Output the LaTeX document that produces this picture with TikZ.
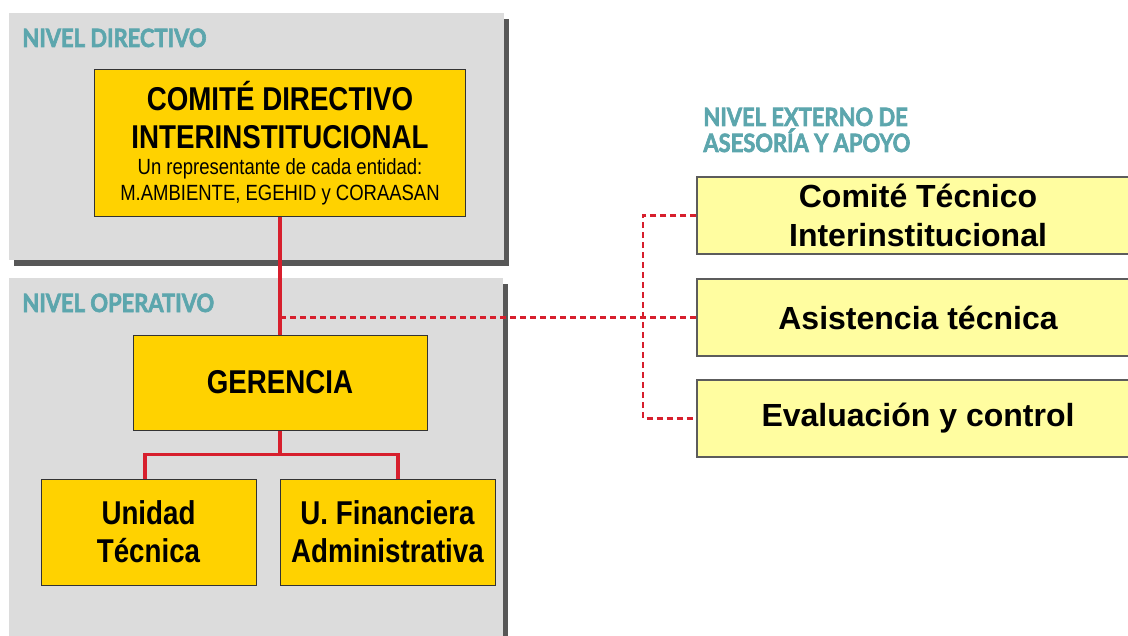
\documentclass[tikz,border=0pt]{standalone}
\usepackage{fontspec}
\setmainfont{Liberation Sans}
\newfontfamily\condfont[FakeStretch=0.84]{Liberation Sans}
\newfontfamily\levelfont[FakeStretch=0.87, FakeBold=2.5]{Lato}
\usetikzlibrary{positioning}

\definecolor{panelgray}{HTML}{DCDCDC}
\definecolor{shadowgray}{HTML}{575757}
\definecolor{gold}{HTML}{FFD200}
\definecolor{paleyellow}{HTML}{FFFDA0}
\definecolor{orgred}{HTML}{D71F2D}
\definecolor{levelteal}{HTML}{5CA6AD}
\definecolor{boxline}{HTML}{333333}

\begin{document}
\begin{tikzpicture}
    [ x=0.5pt, y=-0.5pt,
    panel/.style={fill=panelgray},
    shade/.style={fill=shadowgray},
    level/.style={anchor=base west, inner sep=0pt, text=levelteal,
      font=\levelfont\bfseries\fontsize{12.6}{13}\selectfont, align=left},
    orgbox/.style={draw=boxline, line width=0.5pt, fill=gold, inner sep=0pt,
      align=center, font=\condfont\bfseries\fontsize{16.5}{19}\selectfont},
    extbox/.style={draw=boxline!80, line width=0.7pt, fill=paleyellow, inner sep=0pt,
      align=center, font=\bfseries\fontsize{16}{19.5}\selectfont,
      minimum width=221pt, minimum height=38.5pt},
    link/.style={draw=orgred, line width=1.6pt},
    extlink/.style={draw=orgred, line width=1.1pt, dash pattern=on 3pt off 2pt}
    ]

    \useasboundingbox (0,0) rectangle (1128,636);
    \clip (0,0) rectangle (1128,636);

    % niveles
    \fill[shade] (14,19) rectangle (509,266);
    \fill[panel] (9,13) rectangle (504,260);
    \fill[shade] (14,284) rectangle (508,640);
    \fill[panel] (9,278) rectangle (503,640);

    \node[level] (ndir) at (22,47) {NIVEL DIRECTIVO};
    \node[level] (nope) at (22,312) {NIVEL OPERATIVO};
    \node[level] (next) at (703,152) {NIVEL EXTERNO DE\\ASESORÍA Y APOYO};

    % cajas
    \node[orgbox, minimum width=185.5pt, minimum height=73.5pt] (cdi) at (280,143.5)
      {\raisebox{-1.5pt}{\parbox{180pt}{\centering COMITÉ DIRECTIVO\\INTERINSTITUCIONAL\par
       \mdseries\fontsize{11}{13}\selectfont Un representante de cada entidad:\\
       M.AMBIENTE, EGEHID y CORAASAN\par}}};
    \node[orgbox, minimum width=147pt, minimum height=47.5pt] (ger) at (280,382.5) {GERENCIA};
    \node[orgbox, minimum width=107.5pt, minimum height=53pt] (ut) at (148.5,532) {Unidad\\Técnica};
    \node[orgbox, minimum width=107.5pt, minimum height=53pt] (ufa) at (387.5,532) {U. Financiera\\Administrativa};

    \node[extbox] (ctl) at (918,215.5) {Comité Técnico\\Interinstitucional};
    \node[extbox] (ast) at (918,317.5) {Asistencia técnica};
    \node[extbox] (evc) at (918,418.5) {Evaluación y control};

    % conectores
    \coordinate (tap) at (280,317.5);
    \coordinate (bus) at (643,317.5);

    \draw[extlink] (tap) -- (ast.west);
    \draw[extlink] (ctl.west) -| (bus) |- (evc.west);

    \draw[link] (cdi.south) -- (ger.north);
    \draw[link] (ger.south) -- ++(0,24) -| ([xshift=-1.75pt]ut.north);
    \draw[link] (ger.south) -- ++(0,24) -| ([xshift=5.25pt]ufa.north);
  \end{tikzpicture}
\end{document}
